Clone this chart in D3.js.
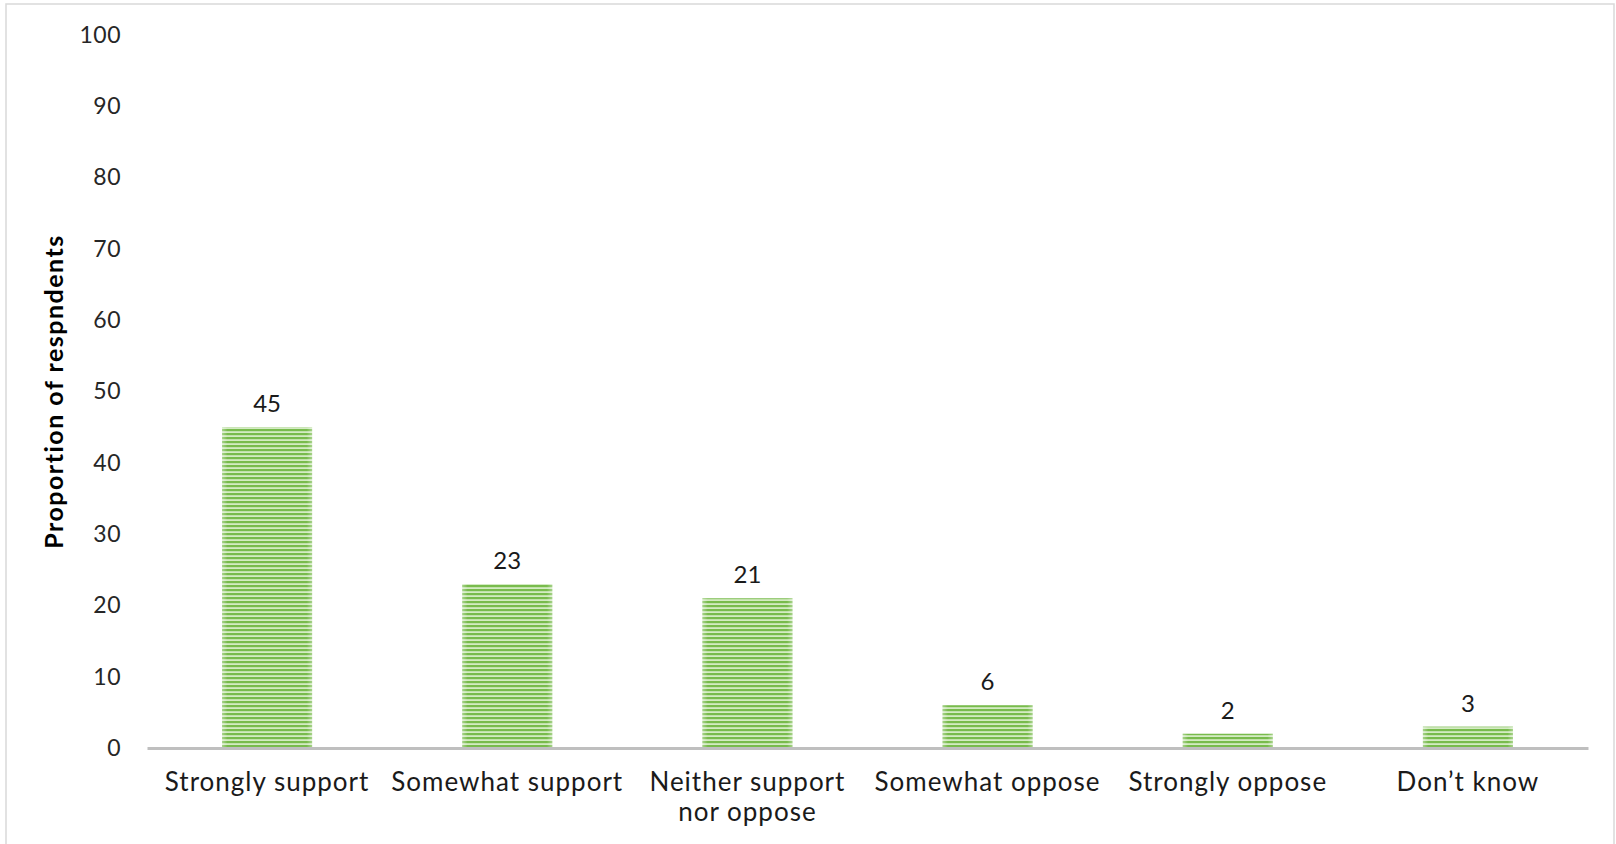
<!DOCTYPE html>
<html>
<head>
<meta charset="utf-8">
<script src="https://cdn.jsdelivr.net/npm/d3@7/dist/d3.min.js"></script>
<style>
html,body{margin:0;padding:0;background:#fff;}
svg{display:block;}
text{font-family:Lato,"Open Sans",sans-serif;}
</style>
</head>
<body>
<svg id="chart" width="1616" height="844"></svg>
<script>
const categories = ["Strongly support","Somewhat support","Neither support\nnor oppose","Somewhat oppose","Strongly oppose","Don\u2019t know"];
const values = [45, 23, 21, 6, 2, 3];
const yTicks = [0,10,20,30,40,50,60,70,80,90,100];
const yTitle = "Proportion of respndents";

const svg = d3.select("#chart");
const m = {left:147, right:1588, top:35, bottom:748};

// outer border
svg.append("rect").attr("x",6).attr("y",4).attr("width",1608).attr("height",845)
  .attr("fill","none").attr("stroke","#d9d9d9").attr("stroke-width",1.5);

// pattern
const defs = svg.append("defs");
const pat = defs.append("pattern").attr("id","stripes").attr("patternUnits","userSpaceOnUse")
  .attr("width",8).attr("height",4).attr("y",1);
pat.append("rect").attr("width",8).attr("height",4).attr("fill","#d3ebc2");
pat.append("rect").attr("y",0).attr("width",8).attr("height",2.2).attr("fill","#78bb4c");
const grad = defs.append("linearGradient").attr("id","edge").attr("x1","0").attr("x2","1");
grad.append("stop").attr("offset","0").attr("stop-color","#fff").attr("stop-opacity",0.35);
grad.append("stop").attr("offset","0.06").attr("stop-color","#fff").attr("stop-opacity",0);
grad.append("stop").attr("offset","0.94").attr("stop-color","#fff").attr("stop-opacity",0);
grad.append("stop").attr("offset","1").attr("stop-color","#fff").attr("stop-opacity",0.35);

const x = d3.scaleBand().domain(categories).range([m.left, m.right]).paddingInner(0.625).paddingOuter(0.3125);
const y = d3.scaleLinear().domain([0,100]).range([m.bottom, m.top]);

// y tick labels
const yAxis = d3.axisLeft(y).tickValues(yTicks).tickSize(0).tickPadding(0);
const gy = svg.append("g").attr("transform","translate(121,0)").call(yAxis);
gy.select(".domain").remove();
gy.selectAll("text").attr("font-size",23).attr("fill","#262626").attr("font-family","Lato").attr("letter-spacing",0.5);

// bars
const data = categories.map((c,i)=>({c, v:values[i]}));
const bars = svg.append("g");
bars.selectAll("rect.bar").data(data).join("rect").attr("class","bar")
  .attr("x",d=>x(d.c)).attr("width",x.bandwidth())
  .attr("y",d=>y(d.v)).attr("height",d=>y(0)-y(d.v))
  .attr("fill","url(#stripes)");
bars.selectAll("rect.edge").data(data).join("rect").attr("class","edge")
  .attr("x",d=>x(d.c)).attr("width",x.bandwidth())
  .attr("y",d=>y(d.v)).attr("height",d=>y(0)-y(d.v))
  .attr("fill","url(#edge)");

// x axis
const xAxis = d3.axisBottom(x).tickSize(0).tickPadding(0);
const gx = svg.append("g").attr("transform",`translate(0,${y(0)})`).call(xAxis);
gx.select(".domain").attr("stroke","#bfbfbf").attr("stroke-width",3);
gx.selectAll(".tick text").each(function(d){
  const t = d3.select(this);
  t.text(null).attr("font-size",26).attr("fill","#1a1a1a").attr("font-family","Lato")
   .attr("letter-spacing",1).attr("dy",null).attr("y",0);
  d.split("\n").forEach((line,i)=>{
    t.append("tspan").attr("x",0).attr("y",43+i*30).text(line);
  });
});

// value labels
svg.append("g").selectAll("text").data(data).join("text")
  .attr("x",d=>x(d.c)+x.bandwidth()/2).attr("y",d=>y(d.v)-15)
  .attr("text-anchor","middle").attr("font-size",24).attr("fill","#1a1a1a")
  .text(d=>d.v);

// y title
svg.append("text").attr("transform",`translate(63,${(m.top+m.bottom)/2}) rotate(-90)`)
  .attr("text-anchor","middle").attr("font-size",25).attr("font-weight","bold").attr("fill","#000")
  .attr("letter-spacing",1.5)
  .text(yTitle);
</script>
</body>
</html>
